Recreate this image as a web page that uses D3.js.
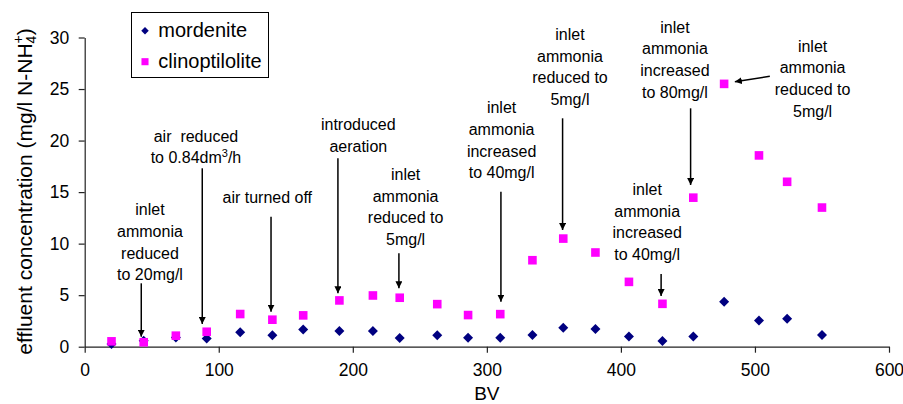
<!DOCTYPE html>
<html>
<head>
<meta charset="utf-8">
<script src="https://cdn.jsdelivr.net/npm/d3@7"></script>
<style>
  body { margin: 0; background: #fff; }
  svg { display: block; font-family: "Liberation Sans", Arial, sans-serif; }
</style>
</head>
<body>
<svg id="chart" width="903" height="404"></svg>
<script>
// Bed volumes at which effluent samples were taken
const bv = [20, 44, 68, 91, 116, 140, 163, 190, 215, 235, 263, 286, 310, 334, 357, 381, 406, 431, 454, 477, 503, 524, 550];
// Effluent ammonium concentration, mg/l N-NH4+
const mordenite = [0.26, 0.58, 0.9, 0.8, 1.39, 1.1, 1.68, 1.52, 1.52, 0.84, 1.1, 0.87, 0.87, 1.13, 1.84, 1.71, 1.0, 0.55, 1.0, 4.35, 2.55, 2.71, 1.13];
const clinoptilolite = [0.52, 0.43, 1.07, 1.45, 3.17, 2.62, 3.04, 4.49, 4.97, 4.75, 4.13, 3.07, 3.16, 8.39, 10.49, 9.14, 6.29, 4.16, 14.46, 25.5, 18.56, 16.0, 13.5];
const xTicks = [0, 100, 200, 300, 400, 500, 600];
const yTicks = [0, 5, 10, 15, 20, 25, 30];
const seriesNames = ["mordenite", "clinoptilolite"];

// Operating-condition notes: label anchor (bv, conc) and arrow from/to, in data units
const notes = [
  { lines: ["inlet", "ammonia", "reduced", "to 20mg/l"], lx: 48.7, ly: 12.75, from: [42.2, 6.15], to: [42.2, 0.97] },
  { lines: ["air  reduced", "to 0.84dm|3|/h"], lx: 83, ly: 19.89, from: [87.7, 17.31], to: [87.7, 2.2] },
  { lines: ["air turned off"], lx: 136.2, ly: 13.91, from: [139, 12.61], to: [139, 3.4] },
  { lines: ["introduced", "aeration"], lx: 204.1, ly: 21.02, from: [188.9, 18.28], to: [188.9, 5.18] },
  { lines: ["inlet", "ammonia", "reduced to", "5mg/l"], lx: 239.4, ly: 16.17, from: [234.4, 9.06], to: [234.4, 5.67] },
  { lines: ["inlet", "ammonia", "increased", "to 40mg/l"], lx: 311, ly: 22.64, from: [310.5, 15.04], to: [310.5, 4.37] },
  { lines: ["inlet", "ammonia", "reduced to", "5mg/l"], lx: 362, ly: 29.76, from: [356.5, 22.16], to: [356.5, 11.32] },
  { lines: ["inlet", "ammonia", "increased", "to 80mg/l"], lx: 440.3, ly: 30.46, from: [452, 23.13], to: [452, 15.69] },
  { lines: ["inlet", "ammonia", "increased", "to 40mg/l"], lx: 419.6, ly: 14.72, from: [430, 7.05], to: [430, 4.92] },
  { lines: ["inlet", "ammonia", "reduced to", "5mg/l"], lx: 543, ly: 28.62, from: [511.1, 26.23], to: [485, 25.71] }
];

const svg = d3.select("#chart");
const x = d3.scaleLinear().domain([0, 600]).range([84.7, 889]);
const y = d3.scaleLinear().domain([0, 30]).range([346.7, 37.5]);
const axisColor = "#222";

// Y axis
const gy = svg.append("g").attr("transform", `translate(${x(0)},0)`)
  .call(d3.axisLeft(y).tickValues(yTicks).tickSize(6).tickSizeOuter(0).tickPadding(9.5));
gy.select(".domain").attr("stroke", axisColor).attr("stroke-width", 1.2);
gy.selectAll(".tick line").attr("stroke", axisColor).attr("stroke-width", 1.2);
gy.selectAll(".tick text").attr("fill", "#000").style("font-size", "17.5px")
  .style("font-family", "'Liberation Sans', Arial, sans-serif");

// X axis
const gx = svg.append("g").attr("transform", `translate(0,${y(0)})`)
  .call(d3.axisBottom(x).tickValues(xTicks).tickSize(6).tickSizeOuter(0).tickPadding(11));
gx.select(".domain").attr("stroke", axisColor).attr("stroke-width", 1.2);
gx.selectAll(".tick line").attr("stroke", axisColor).attr("stroke-width", 1.2);
gx.selectAll(".tick text").attr("fill", "#000").style("font-size", "17.5px")
  .style("font-family", "'Liberation Sans', Arial, sans-serif");

// Axis titles
svg.append("text")
  .attr("x", (x(0) + x(600)) / 2).attr("y", 400)
  .attr("text-anchor", "middle").style("font-size", "19px").text("BV");

const yt = svg.append("text")
  .attr("transform", `translate(31.5,${191.5}) rotate(-90)`)
  .attr("text-anchor", "middle").style("font-size", "21px");
yt.append("tspan").text("effluent concentration (mg/l N-NH");
yt.append("tspan").style("font-size", "14px").attr("dy", 4).text("4");
yt.append("tspan").style("font-size", "14px").attr("dx", -7.8).attr("dy", -13).text("+");
yt.append("tspan").attr("dy", 9).text(")");

// Markers
const diamond = d3.symbol().type(d3.symbolSquare).size(50);
const square = d3.symbol().type(d3.symbolSquare).size(74);

svg.append("g").selectAll("path").data(bv.map((b, i) => [b, mordenite[i]]))
  .join("path")
  .attr("d", diamond)
  .attr("transform", d => `translate(${x(d[0])},${y(d[1])}) rotate(45)`)
  .attr("fill", "#000080");

svg.append("g").selectAll("path").data(bv.map((b, i) => [b, clinoptilolite[i]]))
  .join("path")
  .attr("d", square)
  .attr("transform", d => `translate(${x(d[0])},${y(d[1])})`)
  .attr("fill", "#ff00ff");

// Arrow head marker
svg.append("defs").append("marker")
  .attr("id", "arrow").attr("viewBox", "0 0 10 10")
  .attr("refX", 10).attr("refY", 5)
  .attr("markerWidth", 7).attr("markerHeight", 7)
  .attr("markerUnits", "userSpaceOnUse")
  .attr("orient", "auto")
  .append("path").attr("d", "M0,0 L10,5 L0,10 Z").attr("fill", "#000");

// Notes
const lineGap = 21.7;
const ng = svg.append("g");
notes.forEach(n => {
  const t = ng.append("text").attr("text-anchor", "middle")
    .style("font-size", "16px").style("white-space", "pre");
  n.lines.forEach((ln, i) => {
    const ts = t.append("tspan").attr("x", x(n.lx)).attr("y", y(n.ly) + i * lineGap);
    const parts = ln.split("|");
    if (parts.length === 1) {
      ts.text(ln);
    } else {
      ts.append("tspan").text(parts[0]);
      ts.append("tspan").attr("dy", -6).style("font-size", "11px").text(parts[1]);
      ts.append("tspan").attr("dy", 6).text(parts[2]);
    }
  });
  ng.append("line")
    .attr("x1", x(n.from[0])).attr("y1", y(n.from[1]))
    .attr("x2", x(n.to[0])).attr("y2", y(n.to[1]))
    .attr("stroke", "#000").attr("stroke-width", 1.5)
    .attr("marker-end", "url(#arrow)");
});

// Legend
const lg = svg.append("g");
lg.append("rect").attr("x", 131.5).attr("y", 12.5).attr("width", 137).attr("height", 65)
  .attr("fill", "#fff").attr("stroke", "#000").attr("stroke-width", 1);
lg.append("path").attr("d", d3.symbol().type(d3.symbolSquare).size(28))
  .attr("transform", "translate(145,30.7) rotate(45)").attr("fill", "#000080");
lg.append("path").attr("d", d3.symbol().type(d3.symbolSquare).size(50))
  .attr("transform", "translate(145,61.7)").attr("fill", "#ff00ff");
lg.selectAll("text.lbl").data(seriesNames).join("text")
  .attr("class", "lbl")
  .attr("x", 158.3).attr("y", (d, i) => [36.7, 68.3][i])
  .style("font-size", "20px").text(d => d);
</script>
</body>
</html>
